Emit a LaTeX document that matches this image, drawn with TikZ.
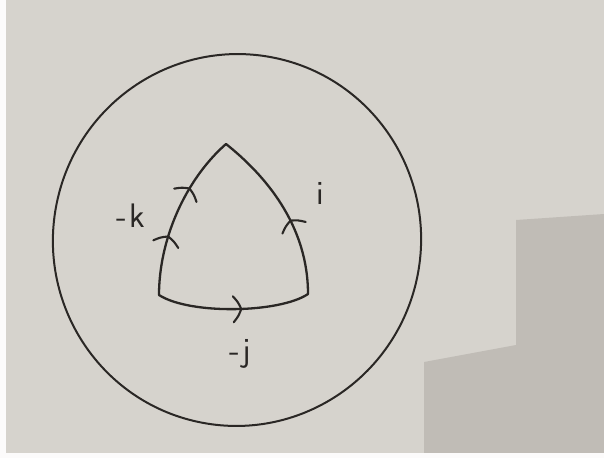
\documentclass[tikz,border=0pt]{standalone}
\usepackage{fontspec}
\setsansfont{Latin Modern Sans}
\usetikzlibrary{decorations.markings}
\definecolor{paper}{RGB}{214,211,205}
\definecolor{shadowcol}{RGB}{192,188,182}
\definecolor{ink}{RGB}{42,39,37}
\begin{document}
\begin{tikzpicture}[x=1pt,y=-1pt,
  pen/.style={draw=ink,line width=2.3pt,line cap=round,line join=round},
  barb/.style={postaction={decorate,decoration={markings,mark=at position #1 with {\draw[ink,line width=2.1pt,line cap=round] (-8pt,13pt) .. controls (-3pt,7pt) .. (0pt,0pt) .. controls (-3pt,-7pt) .. (-8pt,-13pt);}}}},
  lab/.style={text=ink,font=\sffamily\fontsize{34}{36}\selectfont,inner sep=0pt}]
\useasboundingbox (0,0) rectangle (604,458);
% paper
\fill[paper] (0,0) rectangle (604,458);
\fill[shadowcol] (516,220) -- (604,214) -- (604,453) -- (424,453) -- (424,362) -- (516,345) -- cycle;
\fill[white!92!paper] (0,0) rectangle (6,458);
\fill[white!92!paper] (0,453) rectangle (604,458);
% outer circle
\draw[pen,line width=2pt,rotate around={-12:(237,240)}] (237,240) ellipse [x radius=184, y radius=186];
% spherical triangle
\coordinate (A) at (159,295);
\coordinate (T) at (226,144);
\coordinate (B) at (308,294);
\draw[pen,barb=0.35,barb=0.66] (A) .. controls (159,240) and (185,180) .. (T);
\draw[pen,barb=0.43] (B) .. controls (308,225) and (265,175) .. (T);
\draw[pen,barb=0.55] (A) .. controls (190,315) and (280,313) .. (B);
% labels
\node[lab] (k) at (131,216) {-\hspace{2pt}k};
\node[lab] (i) at (320,193) {i};
\node[lab] (j) at (240,354) {-\hspace{2pt}j};
\end{tikzpicture}
\end{document}
